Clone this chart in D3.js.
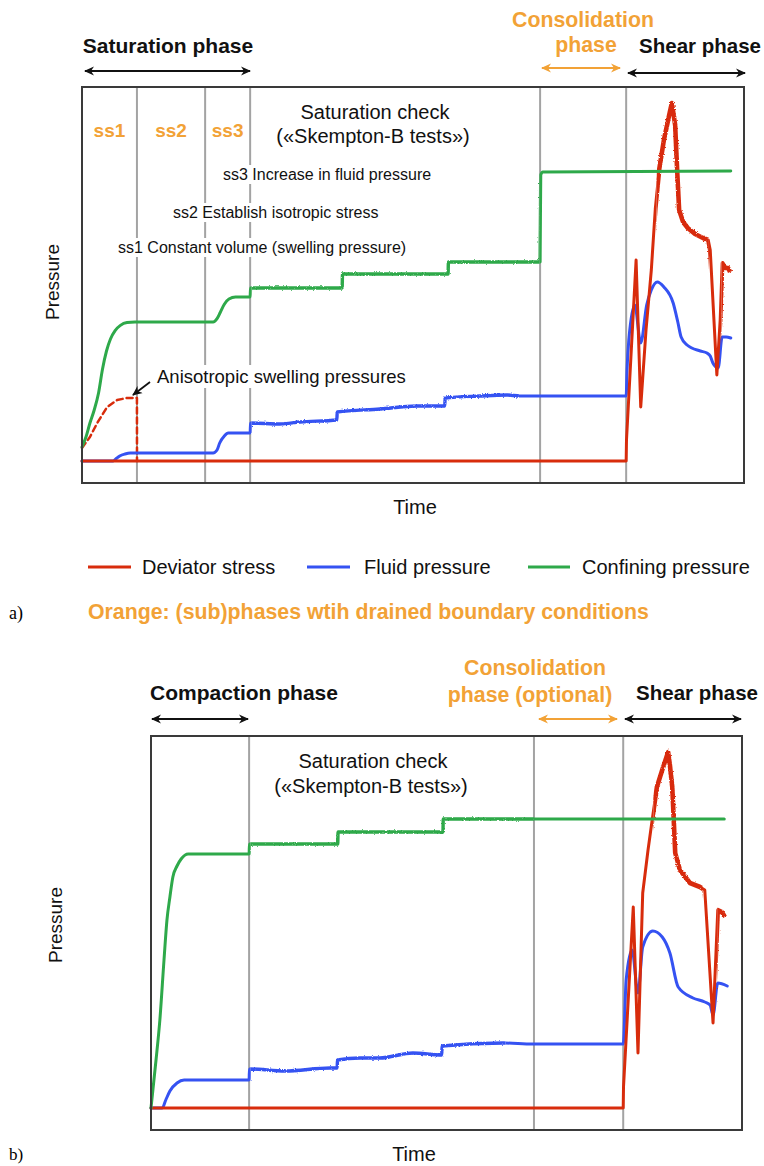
<!DOCTYPE html>
<html>
<head>
<meta charset="utf-8">
<script src="https://cdn.jsdelivr.net/npm/d3@7"></script>
<style>
  body { margin: 0; background: #fff; }
  svg { display: block; }
  text { font-family: "Liberation Sans", Arial, sans-serif; }
</style>
</head>
<body>
<svg id="fig" width="764" height="1166"></svg>
<script>
// ---- Panel a: triaxial test with saturation sub-phases (time, pressure) ----
const aPhaseBounds = [8.3, 18.6, 25.4, 69.2, 82.2];

const aConfining = [
  [0, 3.5], [0.6, 6], [1.2, 9.5], [1.8, 12.5], [2.5, 17], [3.1, 23], [3.7, 27.5], [4.3, 30.5],
  [5.0, 32.6], [5.8, 33.9], [6.8, 34.6], [8.0, 34.75],
  [19.8, 34.75], [20.4, 35.6], [20.9, 37.2], [21.5, 39.2], [22.2, 40.5], [23.2, 41], [25.4, 41],
  [25.45, 43.25], [39.3, 43.25], [39.35, 46.75], [55.3, 46.75], [55.35, 49.75],
  [69.2, 49.75], [69.3, 71.5], [69.6, 72.25], [98.0, 72.5]
];

const aFluid = [
  [0, 0], [4.7, 0], [5.1, 0.5], [5.7, 1.25], [6.5, 1.75], [7.3, 2],
  [19.8, 2], [20.4, 2.75], [20.8, 4.5], [21.5, 6.25], [22.1, 7], [25.4, 7],
  [25.45, 9.5], [29.9, 9.25], [32.9, 9.75], [38.5, 10.25], [38.55, 12.25],
  [45.0, 13], [50.6, 13.75], [54.8, 13.75], [54.85, 15.75], [60.1, 16.25], [64.2, 16.5],
  [66.2, 16.25], [82.2, 16.25],
  [82.33, 22.75], [82.6, 30.25], [83.5, 39], [84.4, 29.5], [85.3, 39], [86.0, 42.75],
  [86.9, 44.75], [87.9, 43.5], [89.3, 39.5], [90.0, 34.75], [90.5, 31], [91.4, 29],
  [93.4, 27.5], [94.4, 27], [94.9, 26.25], [95.3, 24.5], [96.1, 23.25], [96.7, 31],
  [97.3, 31], [98.0, 30.75]
];

const aDeviator = [
  [0, 0], [82.2, 0], [82.25, 5.25], [83.7, 50.25], [84.4, 13.5], [85.2, 32.75],
  [86.0, 47.75], [86.6, 63], [87.2, 73], [87.9, 80.25], [88.7, 86.5], [89.1, 89.5],
  [89.6, 84], [89.9, 72.75], [90.2, 62.75], [90.8, 59.75], [91.5, 58.25], [92.6, 56.75],
  [93.8, 55.75], [94.6, 55.25], [94.9, 52.75], [95.9, 21.5], [96.4, 35.25], [96.7, 49.5],
  [97.2, 48.25], [97.6, 48.25], [97.9, 47.25]
];

// anisotropic swelling pressure during ss1 (dashed)
const aSwelling = [
  [0, 3.25], [1.2, 6], [2.3, 9.5], [3.8, 13.5], [5.3, 15.25], [6.8, 15.75], [8.3, 15.75], [8.31, 0]
];

// ---- Panel b: triaxial test with compaction phase ----
const bPhaseBounds = [16.6, 64.8, 79.9];

const bConfining = [
  [0, 0], [0.85, 12], [1.5, 22], [2.2, 37], [2.7, 47], [3.2, 52.75], [3.7, 57.75],
  [4.4, 60.5], [5.1, 62.25], [6.3, 63.5], [16.6, 63.5], [16.65, 66], [31.6, 66],
  [31.65, 69], [49.4, 69], [49.45, 72.25], [97.0, 72.25]
];

const bFluid = [
  [0, 0], [1.9, 0], [2.5, 2], [3.2, 4.25], [4.4, 6.25], [5.6, 7], [16.6, 7],
  [16.65, 9.75], [22.7, 9.25], [30.3, 10], [31.5, 10], [31.55, 12], [35.4, 12.5],
  [38.7, 12.5], [44.3, 13.75], [49.2, 13.25], [49.25, 15.5], [59.6, 16.25], [64.6, 16],
  [79.9, 16],
  [80.4, 32], [81.4, 39.5], [82.4, 28.75], [83.2, 40.25], [84.9, 44.25], [86.5, 42.75],
  [87.8, 38.75], [89.2, 30.25], [91.7, 27.5], [93.7, 26.5], [94.6, 25.75], [95.1, 23.25],
  [95.9, 31.25], [97.5, 30.5]
];

const bDeviator = [
  [0, 0], [79.9, 0], [79.95, 5.25], [81.6, 50.25], [82.4, 13.75], [83.2, 53.75],
  [84.1, 64.5], [84.8, 72], [85.6, 80.25], [86.5, 84.5], [87.5, 89], [87.8, 85.75],
  [88.2, 80.25], [88.7, 63.75], [89.5, 59.5], [91.2, 56.25], [92.9, 55.25], [93.7, 54.5],
  [95.1, 21.25], [95.9, 49.5], [96.6, 49], [97.1, 47.75]
];

// legend entries and axis titles
const seriesNames = ["Deviator stress", "Fluid pressure", "Confining pressure"];
const axisTitles = { x: "Time", y: "Pressure" };

const C = {
  red: "#d82c0c",
  blue: "#3552f2",
  green: "#2ea94a",
  orange: "#f2a236",
  grid: "#a3a3a3",
  frame: "#3a3a3a"
};

const svg = d3.select("#fig");
const defs = svg.append("defs");

// sensor-noise texture for the logged segments
const grain = defs.append("filter").attr("id", "grain")
  .attr("filterUnits", "userSpaceOnUse")
  .attr("x", 0).attr("y", 0).attr("width", 764).attr("height", 1166);
grain.append("feTurbulence").attr("type", "fractalNoise")
  .attr("baseFrequency", "0.9 0.6").attr("numOctaves", 2).attr("seed", 4).attr("result", "n");
grain.append("feDisplacementMap").attr("in", "SourceGraphic").attr("in2", "n")
  .attr("scale", 2.6).attr("xChannelSelector", "R").attr("yChannelSelector", "G");

function marker(id, color) {
  const m = defs.append("marker")
    .attr("id", id).attr("viewBox", "0 0 10 10")
    .attr("refX", 9).attr("refY", 5)
    .attr("markerWidth", 10).attr("markerHeight", 10)
    .attr("markerUnits", "userSpaceOnUse")
    .attr("orient", "auto-start-reverse");
  m.append("path").attr("d", "M0,0.5 L10,5 L0,9.5 L3,5 Z").attr("fill", color);
}
marker("arrowK", "#111");
marker("arrowO", C.orange);

function dblArrow(x1, x2, y, color, mid) {
  svg.append("line")
    .attr("x1", x1).attr("x2", x2).attr("y1", y).attr("y2", y)
    .attr("stroke", color).attr("stroke-width", 1.8)
    .attr("marker-start", `url(#${mid})`).attr("marker-end", `url(#${mid})`);
}

function label(g, x, y, str, opts = {}) {
  const t = g.append("text")
    .attr("x", x).attr("y", y)
    .attr("font-size", opts.size || 16)
    .attr("font-weight", opts.bold ? "bold" : "normal")
    .attr("fill", opts.color || "#111")
    .attr("text-anchor", opts.anchor || "start")
    .text(str);
  if (opts.bg) {
    const b = t.node().getBBox();
    g.insert("rect", () => t.node())
      .attr("x", b.x - 2).attr("y", b.y - 1)
      .attr("width", b.width + 4).attr("height", b.height + 2)
      .attr("fill", "#fff");
  }
  return t;
}

let clipCount = 0;
function clipFor(x, cfg, windows) {
  const id = "clip" + (clipCount++);
  const cp = defs.append("clipPath").attr("id", id);
  windows.forEach(([t0, t1]) => cp.append("rect")
    .attr("x", x(t0)).attr("y", cfg.top - 40)
    .attr("width", x(t1) - x(t0)).attr("height", cfg.bottom - cfg.top + 80));
  return `url(#${id})`;
}
function complement(windows) {
  const out = [];
  let s = -10;
  windows.forEach(([a, b]) => { out.push([s, a]); s = b; });
  out.push([s, 110]);
  return out;
}

function panel(cfg) {
  const x = d3.scaleLinear().domain([0, 100]).range([cfg.left, cfg.right]);
  const y = d3.scaleLinear().domain(cfg.yDomain).range([cfg.bottom, cfg.top]);
  const g = svg.append("g");

  // phase boundaries
  g.selectAll("line.phase").data(cfg.bounds).join("line")
    .attr("class", "phase")
    .attr("x1", d => x(d)).attr("x2", d => x(d))
    .attr("y1", cfg.top).attr("y2", cfg.bottom)
    .attr("stroke", C.grid).attr("stroke-width", 2);

  const notes = g.append("g");
  cfg.notes(notes, x, y);

  const smooth = d3.line().curve(d3.curveMonotoneX).x(d => x(d[0])).y(d => y(d[1]));
  const sharp = d3.line().x(d => x(d[0])).y(d => y(d[1]));

  function draw(data, color, w, opts = {}) {
    const gen = opts.sharp ? sharp : smooth;
    const noisy = opts.noisy || [];
    const s = g.append("g").attr("clip-path", noisy.length ? clipFor(x, cfg, complement(noisy)) : null);
    s.append("path")
      .attr("d", gen(data)).attr("fill", "none")
      .attr("stroke", color).attr("stroke-width", w)
      .attr("stroke-linejoin", "round").attr("stroke-linecap", "round")
      .attr("stroke-dasharray", opts.dash || null);
    if (noisy.length) {
      g.append("g").attr("clip-path", clipFor(x, cfg, noisy))
        .append("path")
        .attr("d", gen(data)).attr("fill", "none")
        .attr("stroke", color).attr("stroke-width", opts.noisyWidth || 3.4)
        .attr("stroke-linejoin", "round")
        .attr("filter", "url(#grain)");
    }
  }

  if (cfg.swelling) draw(cfg.swelling, C.red, 2.5, { dash: "6,4", sharp: true });
  draw(cfg.fluid, C.blue, 3, { noisy: cfg.noisyFluid });
  draw(cfg.deviator, C.red, 3, { sharp: true, noisy: cfg.noisyDeviator, noisyWidth: 4.6 });
  draw(cfg.confining, C.green, 3, { noisy: cfg.noisyConfining });

  // frame
  g.append("rect")
    .attr("x", cfg.left).attr("y", cfg.top)
    .attr("width", cfg.right - cfg.left).attr("height", cfg.bottom - cfg.top)
    .attr("fill", "none").attr("stroke", C.frame).attr("stroke-width", 2);

  // axis titles
  g.append("text")
    .attr("transform", `translate(${cfg.yTitle[0]},${cfg.yTitle[1]}) rotate(-90)`)
    .attr("text-anchor", "middle").attr("font-size", 19).attr("fill", "#111")
    .text(axisTitles.y);
  g.append("text")
    .attr("x", cfg.xTitle[0]).attr("y", cfg.xTitle[1])
    .attr("text-anchor", "middle").attr("font-size", 20).attr("fill", "#111")
    .text(axisTitles.x);
  return { x, y };
}

// ---------- panel a ----------
panel({
  left: 82, right: 744, top: 87, bottom: 483, yDomain: [-5.5, 93.5],
  bounds: aPhaseBounds, confining: aConfining, fluid: aFluid,
  deviator: aDeviator, swelling: aSwelling,
  noisyConfining: [[25.6, 69.1]], noisyFluid: [[25.6, 66]],
  noisyDeviator: [[86.8, 94.7], [96.6, 99]],
  yTitle: [59, 282], xTitle: [415, 514],
  notes: (g, x) => {
    ["ss1", "ss2", "ss3"].forEach((s, i) => {
      const lo = i === 0 ? 0 : aPhaseBounds[i - 1];
      label(g, (x(lo) + x(aPhaseBounds[i])) / 2, 137, s, { size: 19, bold: true, color: C.orange, anchor: "middle" });
    });
    label(g, 375, 119, "Saturation check", { size: 20, anchor: "middle" });
    label(g, 373, 143, "(«Skempton-B tests»)", { size: 20, anchor: "middle" });
    label(g, 223, 180, "ss3 Increase in fluid pressure", { size: 16, bg: true });
    label(g, 173, 218, "ss2 Establish isotropic stress", { size: 16, bg: true });
    label(g, 118, 253, "ss1 Constant volume (swelling pressure)", { size: 16, bg: true });
    label(g, 157, 383, "Anisotropic swelling pressures", { size: 18.5, bg: true });
    g.append("line")
      .attr("x1", 150).attr("y1", 382).attr("x2", 133).attr("y2", 395)
      .attr("stroke", "#111").attr("stroke-width", 1.8)
      .attr("marker-end", "url(#arrowK)");
  }
});

label(svg, 168, 53, "Saturation phase", { size: 21, bold: true, anchor: "middle" });
dblArrow(85, 250, 71, "#111", "arrowK");
label(svg, 583, 27, "Consolidation", { size: 21.3, bold: true, color: C.orange, anchor: "middle" });
label(svg, 586, 52, "phase", { size: 21.3, bold: true, color: C.orange, anchor: "middle" });
dblArrow(542, 620, 68, C.orange, "arrowO");
label(svg, 700, 53, "Shear phase", { size: 20.5, bold: true, anchor: "middle" });
dblArrow(628, 745, 73, "#111", "arrowK");

// legend
const legendX = [[88, 131, 142], [307, 350, 364], [528, 570, 582]];
const legendColors = [C.red, C.blue, C.green];
seriesNames.forEach((n, i) => {
  const [x1, x2, tx] = legendX[i];
  svg.append("line").attr("x1", x1).attr("x2", x2).attr("y1", 567).attr("y2", 567)
    .attr("stroke", legendColors[i]).attr("stroke-width", 3);
  label(svg, tx, 574, n, { size: 20 });
});
label(svg, 88, 619, "Orange: (sub)phases wtih drained boundary conditions", { size: 21.3, bold: true, color: C.orange });
svg.append("text").attr("x", 9).attr("y", 619).attr("font-size", 18)
  .style("font-family", '"Liberation Serif", "Times New Roman", serif').text("a)");

// ---------- panel b ----------
panel({
  left: 151, right: 742, top: 736, bottom: 1130, yDomain: [-5.5, 93],
  bounds: bPhaseBounds, confining: bConfining, fluid: bFluid,
  deviator: bDeviator,
  noisyConfining: [[16.8, 64.8]], noisyFluid: [[16.8, 60]],
  noisyDeviator: [[85, 93.4], [95.8, 99]],
  yTitle: [62, 925], xTitle: [414, 1161],
  notes: (g) => {
    label(g, 373, 768, "Saturation check", { size: 20, anchor: "middle" });
    label(g, 371, 793, "(«Skempton-B tests»)", { size: 20, anchor: "middle" });
  }
});

label(svg, 244, 700, "Compaction phase", { size: 21, bold: true, anchor: "middle" });
dblArrow(152, 248, 719, "#111", "arrowK");
label(svg, 535, 675, "Consolidation", { size: 21.3, bold: true, color: C.orange, anchor: "middle" });
label(svg, 530, 702, "phase (optional)", { size: 21.3, bold: true, color: C.orange, anchor: "middle" });
dblArrow(539, 617, 719, C.orange, "arrowO");
label(svg, 697, 700, "Shear phase", { size: 20.5, bold: true, anchor: "middle" });
dblArrow(625, 741, 719, "#111", "arrowK");
svg.append("text").attr("x", 9).attr("y", 1160).attr("font-size", 17)
  .style("font-family", '"Liberation Serif", "Times New Roman", serif').text("b)");
</script>
</body>
</html>
